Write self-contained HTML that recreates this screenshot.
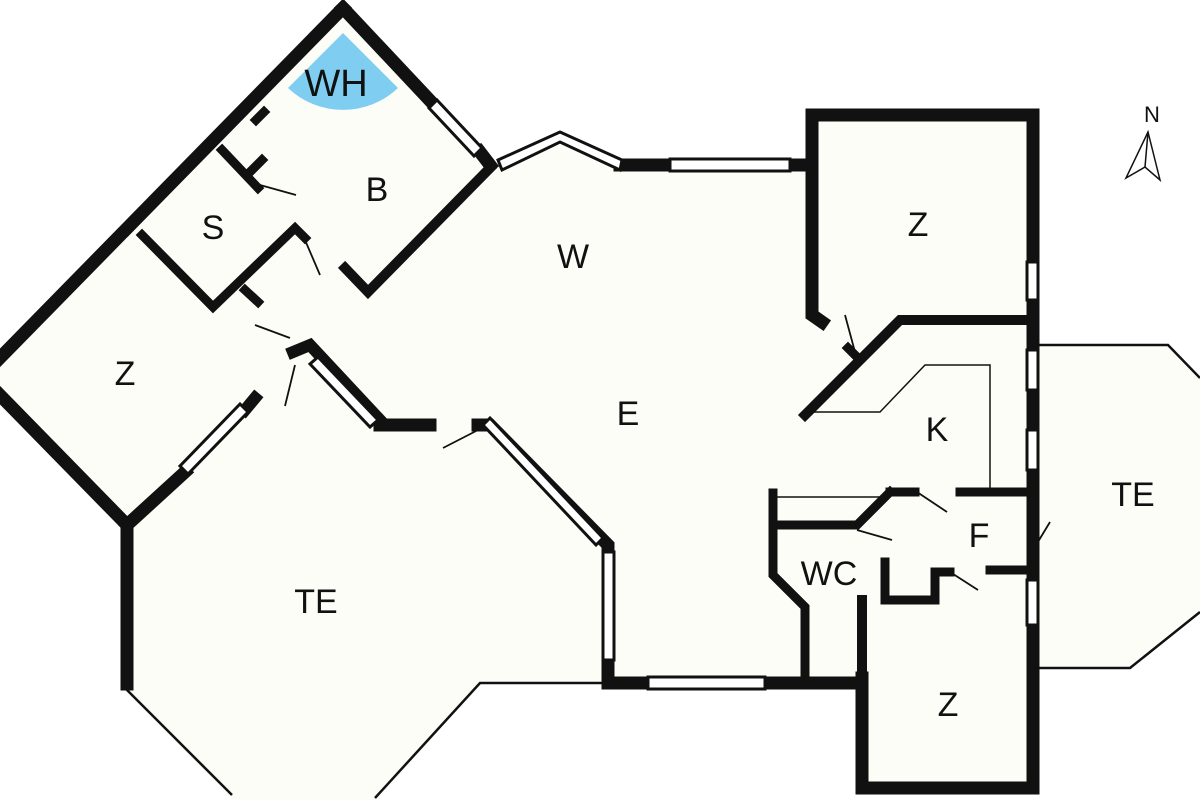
<!DOCTYPE html>
<html><head><meta charset="utf-8"><style>
html,body{margin:0;padding:0;background:#fff;}
svg{display:block;}
text{font-family:"Liberation Sans",sans-serif;fill:#111;}
</style></head><body>
<svg width="1200" height="800" viewBox="0 0 1200 800" xmlns="http://www.w3.org/2000/svg">
<g fill="#fdfdf8" stroke="none">
<polygon points="343,8 490,165 560,135 620,165 812,165 812,120 1035,120 1035,790 862,790 862,683 605,683 605,545 490,422 380,422 305,345 125,522 -20,370"/>
<polygon points="125,522 305,345 380,422 490,422 605,545 605,683 480,683 378,800 232,800 125,690"/>
<polygon points="1038,345 1168,345 1200,378 1200,612 1130,668 1038,668"/>
</g>
<path d="M343,33 L288,88 A80,80 0 0 0 398,88 Z" fill="#7fcdf0"/>
<g fill="none" stroke="#111" stroke-width="2.5">
<polyline points="125,688 232,795"/>
<polyline points="605,683 480,683 375,798"/>
<polyline points="1038,345 1168,345 1200,378"/>
<polyline points="1200,612 1130,668 1038,668"/>
<polyline points="808,412 880,412 925,365 990,365 990,490" stroke-width="1.5"/>
<polyline points="775,497 890,497" stroke-width="1.5"/>
</g>
<g fill="none" stroke="#111" stroke-width="13" stroke-linejoin="miter" stroke-linecap="square">
<polyline points="343,8 -10,368"/>
<polyline points="-10,385 127,525 127,684"/>
<polyline points="343,8 437,108"/>
<polyline points="480,152 490,165"/>
<polyline points="490,168 368,292 345,268" stroke-width="10"/>
<polyline points="222,150 258,188" stroke-width="9"/>
<polyline points="142,235 213,307 295,228 305,238" stroke-width="9"/>
<polyline points="245,290 258,302" stroke-width="9"/>
<polyline points="293,352 310,345 380,420" stroke-width="12"/>
<polyline points="255,398 245,410" stroke-width="12"/>
<polyline points="185,472 127,525"/>
<polyline points="380,425 430,425"/>
<polyline points="478,425 490,425 608,545 608,683 648,683"/>
<polyline points="765,683 862,683"/>
<polyline points="862,678 862,788 1033,788 1033,115 812,115 812,315 822,322" stroke-width="13"/>
<polyline points="620,165 670,165"/>
<polyline points="790,165 812,165"/>
<polyline points="805,415 900,320 1028,320" stroke-width="10"/>
<polyline points="890,492 915,492" stroke-width="9"/>
<polyline points="960,492 1028,492" stroke-width="9"/>
<polyline points="890,492 857,525 775,525" stroke-width="9"/>
<polyline points="773,493 773,575 805,607 805,680" stroke-width="9"/>
<polyline points="885,562 885,600 935,600 935,572 950,572" stroke-width="9"/>
<polyline points="990,570 1028,570" stroke-width="9"/>
<polyline points="862,600 862,678" stroke-width="10"/>
<polyline points="264,112 256,120" stroke-width="9"/>
<polyline points="262,160 252,170" stroke-width="9"/>
<polyline points="848,348 856,356" stroke-width="9"/>
</g>
<g fill="#fff" stroke="#111" stroke-width="3">
<polygon points="437,100 482,148 474,156 429,108"/>
<polygon points="498,160 560,132 622,160 620,170 560,142 502,170"/>
<polygon points="670,159 790,159 790,171 670,171"/>
<polygon points="318,357 378,420 370,427 310,364"/>
<polygon points="490,418 603,538 596,545 483,425"/>
<polygon points="603,552 614,552 614,660 603,660"/>
<polygon points="648,677 765,677 765,689 648,689"/>
<polygon points="240,404 248,412 188,474 180,466"/>
<rect x="1027" y="262" width="11" height="38"/>
<rect x="1027" y="350" width="11" height="40"/>
<rect x="1027" y="430" width="11" height="40"/>
<rect x="1027" y="580" width="11" height="45"/>
</g>
<g stroke="#111" stroke-width="1.8" fill="none">
<line x1="260" y1="185" x2="296" y2="195"/>
<line x1="305" y1="240" x2="320" y2="275"/>
<line x1="255" y1="325" x2="290" y2="338"/>
<line x1="295" y1="365" x2="285" y2="406"/>
<line x1="478" y1="430" x2="443" y2="448"/>
<line x1="845" y1="315" x2="855" y2="352"/>
<line x1="917" y1="492" x2="947" y2="512"/>
<line x1="857" y1="530" x2="892" y2="540"/>
<line x1="950" y1="572" x2="978" y2="590"/>
<line x1="1030" y1="555" x2="1050" y2="522"/>
</g>
<g font-size="34" text-anchor="middle">
<text x="336" y="96" font-size="38">WH</text>
<text x="377" y="201">B</text>
<text x="213" y="239">S</text>
<text x="573" y="268">W</text>
<text x="125" y="385">Z</text>
<text x="628" y="425">E</text>
<text x="918" y="236">Z</text>
<text x="937" y="441">K</text>
<text x="1133" y="506">TE</text>
<text x="979" y="547">F</text>
<text x="829" y="585">WC</text>
<text x="316" y="613">TE</text>
<text x="948" y="716">Z</text>
</g>
<text x="1152" y="122" font-size="22" text-anchor="middle">N</text>
<g fill="none" stroke="#111" stroke-width="1.5">
<polygon points="1148,132 1160,180 1145,167 1126,178"/>
<line x1="1148" y1="132" x2="1145" y2="167"/>
</g>
</svg>
</body></html>
